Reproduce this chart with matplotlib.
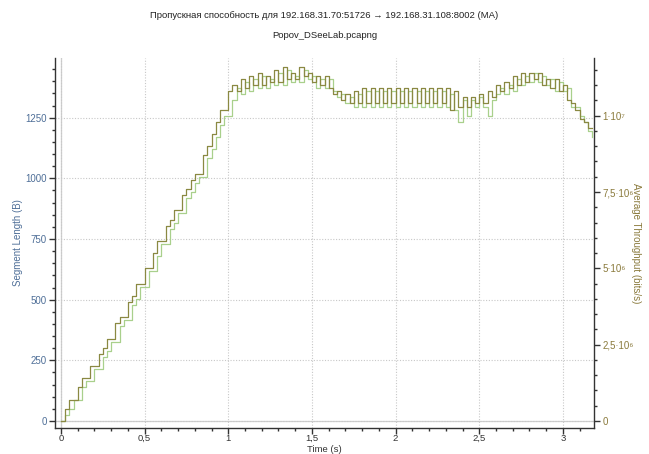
import matplotlib
matplotlib.use("Agg")
import matplotlib.pyplot as plt
from matplotlib.ticker import MultipleLocator, FixedLocator, FixedFormatter

plt.rcParams['font.family'] = ['Liberation Sans', 'DejaVu Sans']

title_line1 = "Пропускная способность для 192.168.31.70:51726 → 192.168.31.108:8002 (MA)"
title_line2 = "Popov_DSeeLab.pcapng"
x_label = "Time (s)"
left_label = "Segment Length (B)"
right_label = "Average Throughput (bits/s)"

# time grid (s)
time_s = [
    0.000, 0.025, 0.050, 0.075, 0.100, 0.125, 0.150, 0.175, 0.200, 0.225,
    0.250, 0.275, 0.300, 0.325, 0.350, 0.375, 0.400, 0.425, 0.450, 0.475,
    0.500, 0.525, 0.550, 0.575, 0.600, 0.625, 0.650, 0.675, 0.700, 0.725,
    0.750, 0.775, 0.800, 0.825, 0.850, 0.875, 0.900, 0.925, 0.950, 0.975,
    1.000, 1.025, 1.050, 1.075, 1.100, 1.125, 1.150, 1.175, 1.200, 1.225,
    1.250, 1.275, 1.300, 1.325, 1.350, 1.375, 1.400, 1.425, 1.450, 1.475,
    1.500, 1.525, 1.550, 1.575, 1.600, 1.625, 1.650, 1.675, 1.700, 1.725,
    1.750, 1.775, 1.800, 1.825, 1.850, 1.875, 1.900, 1.925, 1.950, 1.975,
    2.000, 2.025, 2.050, 2.075, 2.100, 2.125, 2.150, 2.175, 2.200, 2.225,
    2.250, 2.275, 2.300, 2.325, 2.350, 2.375, 2.400, 2.425, 2.450, 2.475,
    2.500, 2.525, 2.550, 2.575, 2.600, 2.625, 2.650, 2.675, 2.700, 2.725,
    2.750, 2.775, 2.800, 2.825, 2.850, 2.875, 2.900, 2.925, 2.950, 2.975,
    3.000, 3.025, 3.050, 3.075, 3.100, 3.125, 3.150, 3.175,
]

# throughput (Mbit/s), darker olive series
throughput_mbps = [
    0.0, 0.4, 0.7, 0.7, 1.1, 1.4, 1.4, 1.8, 1.8, 2.2,
    2.4, 2.7, 2.7, 3.2, 3.4, 3.4, 3.9, 4.1, 4.5, 4.5,
    5.0, 5.0, 5.5, 5.9, 5.9, 6.4, 6.6, 6.9, 6.9, 7.4,
    7.6, 7.9, 8.1, 8.1, 8.7, 9.0, 9.4, 9.8, 10.2, 10.2,
    10.8, 11.0, 10.8, 11.2, 10.9, 11.3, 11.0, 11.4, 11.0, 11.3,
    11.1, 11.5, 11.1, 11.6, 11.2, 11.4, 11.2, 11.6, 11.3, 11.4,
    11.1, 11.3, 11.0, 11.3, 10.9, 10.7, 10.8, 10.5, 10.7, 10.4,
    10.8, 10.4, 10.9, 10.4, 10.9, 10.4, 10.9, 10.4, 10.9, 10.4,
    10.9, 10.4, 10.9, 10.4, 10.9, 10.4, 10.9, 10.4, 10.9, 10.4,
    10.9, 10.4, 10.9, 10.2, 10.8, 10.3, 10.6, 10.3, 10.6, 10.4,
    10.7, 10.4, 10.8, 10.6, 11.0, 10.8, 11.1, 10.9, 11.3, 11.0,
    11.4, 11.1, 11.4, 11.2, 11.4, 11.0, 11.2, 10.9, 11.2, 10.8,
    11.0, 10.5, 10.4, 10.2, 9.9, 9.8, 9.6, 9.6,
]

# lighter green series (Mbit/s)
lagged_mbps = [
    0.0, 0.2, 0.4, 0.7, 0.7, 1.1, 1.3, 1.3, 1.7, 1.7,
    2.1, 2.3, 2.6, 2.6, 3.1, 3.3, 3.3, 3.8, 4.0, 4.4,
    4.4, 4.9, 4.9, 5.4, 5.8, 5.8, 6.3, 6.5, 6.8, 6.8,
    7.3, 7.5, 7.8, 8.0, 8.0, 8.6, 8.9, 9.3, 9.7, 10.0,
    10.0, 10.5, 10.9, 10.7, 11.1, 10.8, 11.2, 10.9, 11.3, 10.9,
    11.2, 11.0, 11.4, 11.0, 11.5, 11.1, 11.3, 11.1, 11.5, 11.2,
    11.3, 10.9, 11.2, 10.9, 11.2, 10.8, 10.6, 10.7, 10.4, 10.6,
    10.3, 10.7, 10.3, 10.8, 10.3, 10.8, 10.3, 10.8, 10.3, 10.8,
    10.3, 10.8, 10.3, 10.8, 10.3, 10.8, 10.3, 10.8, 10.3, 10.8,
    10.3, 10.8, 10.3, 10.7, 10.2, 9.8, 10.5, 10.0, 10.5, 10.3,
    10.6, 10.3, 10.0, 10.5, 10.7, 10.9, 10.7, 11.0, 10.8, 11.2,
    11.0, 11.3, 11.1, 11.4, 11.1, 11.3, 11.0, 11.2, 10.8, 11.1,
    10.8, 10.9, 10.3, 10.3, 10.0, 9.8, 9.5, 9.3,
]

x_ticks = [0, 0.5, 1, 1.5, 2, 2.5, 3]
x_tick_labels = ["0", "0,5", "1", "1,5", "2", "2,5", "3"]
left_ticks = [0, 250, 500, 750, 1000, 1250]
left_tick_labels = ["0", "250", "500", "750", "1000", "1250"]
right_ticks = [0, 2.5e6, 5e6, 7.5e6, 1e7]
right_tick_labels = ["0", "2,5·10⁶", "5·10⁶", "7,5·10⁶", "1·10⁷"]

dark_color = "#8a8942"
light_color = "#a9d08c"
blue_text = "#4f6f98"
olive_text = "#8a7a3c"
grid_color = "#c8c8c8"
spine_color = "#333333"

fig = plt.figure(figsize=(6.49, 4.54), dpi=100)
ax = fig.add_axes([55/649, 26/454, 539/649, 370/454])
ax2 = ax.twinx()

ax.set_xlim(-0.036, 3.186)
ax.set_ylim(-29, 1496)
ax2.set_ylim(-2.29e5, 1.189e7)

# zero lines
ax.axhline(0, color="#cfcfcf", lw=0.9, zorder=1)
ax.axvline(0, color="#cfcfcf", lw=0.9, zorder=1)

ax.xaxis.set_major_locator(FixedLocator(x_ticks))
ax.xaxis.set_major_formatter(FixedFormatter(x_tick_labels))
ax.xaxis.set_minor_locator(MultipleLocator(0.1))
ax.yaxis.set_major_locator(FixedLocator(left_ticks))
ax.yaxis.set_major_formatter(FixedFormatter(left_tick_labels))
ax.yaxis.set_minor_locator(MultipleLocator(50))
ax2.yaxis.set_major_locator(FixedLocator(right_ticks))
ax2.yaxis.set_major_formatter(FixedFormatter(right_tick_labels))
ax2.yaxis.set_minor_locator(MultipleLocator(5e5))

ax.grid(True, which="major", color=grid_color, linestyle=(0, (1, 1.5)), lw=0.8)

for a in (ax, ax2):
    a.spines["top"].set_visible(False)
    for s in ("left", "right", "bottom"):
        a.spines[s].set_color(spine_color)
        a.spines[s].set_linewidth(1.0)
ax.spines["right"].set_visible(False)
ax2.spines["left"].set_visible(False)
ax2.spines["bottom"].set_visible(False)

ax.tick_params(axis="both", which="major", direction="out", length=4, width=1, color=spine_color, labelsize=7)
ax.tick_params(axis="both", which="minor", direction="out", length=2.5, width=1, color=spine_color)
ax.tick_params(axis="x", labelcolor="#333333", pad=0.5, labelsize=6.8)
ax.tick_params(axis="y", labelcolor=blue_text, pad=2)
ax2.tick_params(axis="y", which="major", direction="out", length=4, width=1, color=spine_color,
                labelsize=7, labelcolor=olive_text, pad=2)
ax2.tick_params(axis="y", which="minor", direction="out", length=2.5, width=1, color=spine_color)

thr = [v * 1e6 for v in throughput_mbps]
lag = [v * 1e6 for v in lagged_mbps]
ax2.plot(time_s, lag, drawstyle="steps-post", color=light_color, lw=0.9, zorder=3)
ax2.plot(time_s, thr, drawstyle="steps-post", color=dark_color, lw=0.9, zorder=4)

ax.set_xlabel(x_label, fontsize=6.8, color="#333333")
ax.xaxis.label.set_va("center")
ax.xaxis.set_label_coords(0.5, (428 - 449.5) / 370)

ax.set_ylabel(left_label, fontsize=7, color=blue_text)
ax.yaxis.label.set_va("center")
ax.yaxis.set_label_coords((18 - 55) / 539, 0.5)

ax2.set_ylabel(right_label, fontsize=7, color=olive_text, rotation=270)
ax2.yaxis.label.set_va("center")
ax2.yaxis.label.set_ha("center")
ax2.yaxis.set_label_coords((636 - 55) / 539, 0.5)

fig.text(0.5, 1 - 16/454, title_line1, ha="center", va="center", fontsize=6.8, color="#222222")
fig.text(0.5, 1 - 35/454, title_line2, ha="center", va="center", fontsize=6.8, color="#222222")

fig.savefig("out.png", dpi=100, facecolor="white")
